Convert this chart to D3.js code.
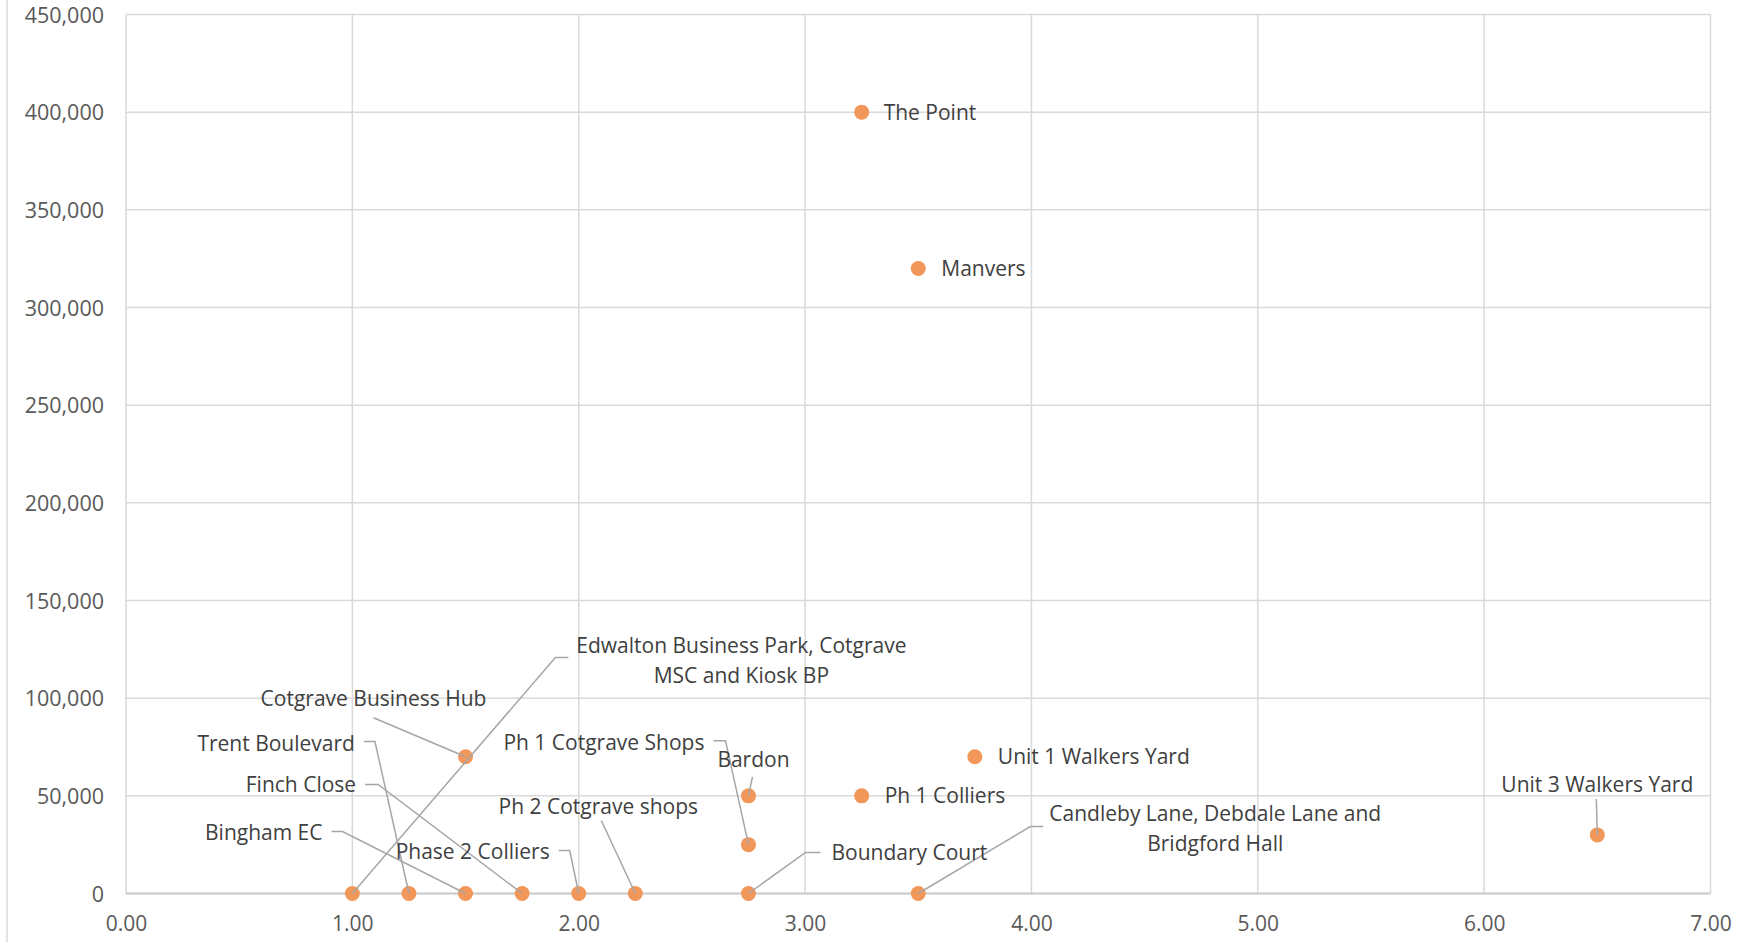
<!DOCTYPE html>
<html>
<head>
<meta charset="utf-8">
<script src="https://cdn.jsdelivr.net/npm/d3@7"></script>
<style>
  body { margin: 0; background: #fff; }
  svg text { font-family: "Open Sans", sans-serif; }
</style>
</head>
<body>
<div class="container"></div>
<script>
// site names and their values
const names = [
    "The Point", "Manvers", "Unit 1 Walkers Yard", "Ph 1 Colliers", "Bardon",
    "Ph 1 Cotgrave Shops", "Cotgrave Business Hub", "Unit 3 Walkers Yard",
    "Edwalton Business Park, Cotgrave|MSC and Kiosk BP", "Trent Boulevard",
    "Bingham EC", "Finch Close", "Phase 2 Colliers", "Ph 2 Cotgrave shops",
    "Boundary Court", "Candleby Lane, Debdale Lane and|Bridgford Hall"
]
const xValues = [3.25, 3.5, 3.75, 3.25, 2.75, 2.75, 1.5, 6.5, 1.0, 1.25, 1.5, 1.75, 2.0, 2.25, 2.75, 3.5]
const yValues = [400000, 320000, 70000, 50000, 50000, 25000, 70000, 30000, 0, 0, 0, 0, 0, 0, 0, 0]

const xTicks = [0, 1, 2, 3, 4, 5, 6, 7]
const yTicks = [0, 50000, 100000, 150000, 200000, 250000, 300000, 350000, 400000, 450000]

// label placement (pixel offsets from the marker), like Excel's dragged labels
const labelLayout = {
    "The Point": { dx: 22, dy: 0, anchor: "start" },
    "Manvers": { dx: 23, dy: 0, anchor: "start" },
    "Unit 1 Walkers Yard": { dx: 23, dy: 0, anchor: "start" },
    "Ph 1 Colliers": { dx: 23, dy: 0, anchor: "start" },
    "Bardon": { dx: 5, dy: -36, anchor: "middle", leader: [[4, -19], [0, 0]] },
    "Ph 1 Cotgrave Shops": { dx: -44, dy: -102, anchor: "end", leader: [[-35, -104], [-23, -104], [0, 0]] },
    "Cotgrave Business Hub": { dx: -92, dy: -58, anchor: "middle", leader: [[-92, -39], [0, 0]] },
    "Unit 3 Walkers Yard": { dx: 0, dy: -50, anchor: "middle", leader: [[-1, -36], [0, 0]] },
    "Edwalton Business Park, Cotgrave|MSC and Kiosk BP": { dx: 389, dy: -248, anchor: "middle", leader: [[0, 0], [203, -236], [216, -236]] },
    "Trent Boulevard": { dx: -54, dy: -150, anchor: "end", leader: [[-45, -152], [-34, -152], [0, 0]] },
    "Bingham EC": { dx: -143, dy: -61, anchor: "end", leader: [[-134, -62], [-123, -62], [0, 0]] },
    "Finch Close": { dx: -166, dy: -109, anchor: "end", leader: [[-157, -109], [-144, -109], [0, 0]] },
    "Phase 2 Colliers": { dx: -29, dy: -42, anchor: "end", leader: [[-20, -43], [-9, -43], [0, 0]] },
    "Ph 2 Cotgrave shops": { dx: -37, dy: -87, anchor: "middle", leader: [[-34, -73], [0, 0]] },
    "Boundary Court": { dx: 83, dy: -41, anchor: "start", leader: [[0, 0], [57, -41], [72, -41]] },
    "Candleby Lane, Debdale Lane and|Bridgford Hall": { dx: 297, dy: -80, anchor: "middle", leader: [[0, 0], [112, -67], [125, -67]] }
}

const width = 1745, height = 942
const margin = { top: 14.5, right: 34.5, bottom: 48.5, left: 126 }

const svg = d3.select("div.container").append("svg")
    .attr("width", width)
    .attr("height", height)

// outer chart border on the left
svg.append("line")
    .attr("x1", 7).attr("x2", 7)
    .attr("y1", 0).attr("y2", height)
    .attr("stroke", "#d9d9d9")
    .attr("stroke-width", 1.5)

const x = d3.scaleLinear().domain([0, 7]).range([margin.left, width - margin.right])
const y = d3.scaleLinear().domain([0, 450000]).range([height - margin.bottom, margin.top])

// gridlines
svg.append("g")
    .selectAll("line.vgrid")
    .data(xTicks)
    .enter().append("line")
    .attr("x1", (d) => x(d)).attr("x2", (d) => x(d))
    .attr("y1", y(450000)).attr("y2", y(0))
    .attr("stroke", "#d9d9d9")
    .attr("stroke-width", 1.5)

svg.append("g")
    .selectAll("line.hgrid")
    .data(yTicks)
    .enter().append("line")
    .attr("x1", x(0)).attr("x2", x(7))
    .attr("y1", (d) => y(d)).attr("y2", (d) => y(d))
    .attr("stroke", (d) => d === 0 ? "#c8c8c8" : "#d9d9d9")
    .attr("stroke-width", (d) => d === 0 ? 2 : 1.5)

// axes (labels only, gridlines drawn above)
const xAxis = svg.append("g")
    .attr("transform", "translate(0," + (y(0) + 20) + ")")
    .call(d3.axisBottom(x).tickValues(xTicks).tickFormat(d3.format(".2f")).tickSize(0))
xAxis.select(".domain").remove()
xAxis.selectAll("text")
    .attr("font-size", 21)
    .attr("fill", "#595959")

const yAxis = svg.append("g")
    .attr("transform", "translate(" + (x(0) - 19) + ",0)")
    .call(d3.axisLeft(y).tickValues(yTicks).tickFormat(d3.format(",")).tickSize(0))
yAxis.select(".domain").remove()
yAxis.selectAll("text")
    .attr("font-size", 21.5)
    .attr("fill", "#595959")
    .attr("dy", "0.35em")

const points = names.map((n, i) => ({ name: n, x: xValues[i], y: yValues[i] }))

// markers
svg.append("g")
    .selectAll("circle")
    .data(points)
    .enter().append("circle")
    .attr("cx", (d) => x(d.x))
    .attr("cy", (d) => y(d.y))
    .attr("r", 7.5)
    .attr("fill", "#f2975a")

// leader lines
const line = d3.line()
svg.append("g")
    .selectAll("path")
    .data(points.filter((d) => labelLayout[d.name].leader))
    .enter().append("path")
    .attr("d", (d) => line(labelLayout[d.name].leader.map((p) => [x(d.x) + p[0], y(d.y) + p[1]])))
    .attr("fill", "none")
    .attr("stroke", "#a6a6a6")
    .attr("stroke-width", 1.5)

// data labels
const labels = svg.append("g")
    .selectAll("text")
    .data(points)
    .enter().append("text")
    .attr("x", (d) => x(d.x) + labelLayout[d.name].dx)
    .attr("y", (d) => y(d.y) + labelLayout[d.name].dy)
    .attr("text-anchor", (d) => labelLayout[d.name].anchor)
    .attr("font-size", 21)
    .attr("fill", "#404040")

labels.each(function (d) {
    const parts = d.name.split("|")
    const t = d3.select(this)
    parts.forEach((p, i) => {
        t.append("tspan")
            .attr("x", x(d.x) + labelLayout[d.name].dx)
            .attr("dy", i === 0 ? "0.35em" : "1.42em")
            .text(p)
    })
})
</script>
</body>
</html>
